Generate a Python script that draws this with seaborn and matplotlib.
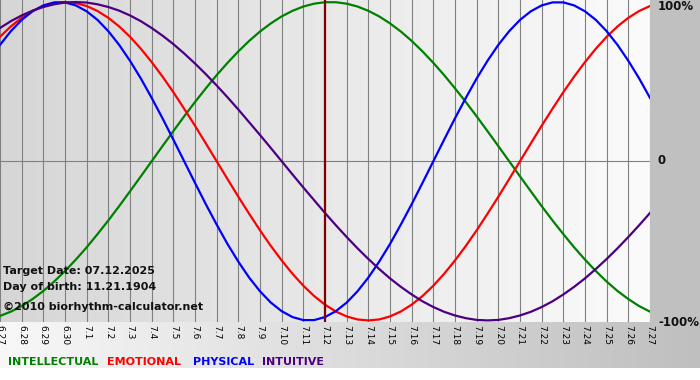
import numpy as np
import pandas as pd
import matplotlib
matplotlib.use("Agg")
import matplotlib.pyplot as plt
from matplotlib.colors import LinearSegmentedColormap
import seaborn as sns

dates = ["6.27", "6.28", "6.29", "6.30", "7.1", "7.2", "7.3", "7.4", "7.5", "7.6",
         "7.7", "7.8", "7.9", "7.10", "7.11", "7.12", "7.13", "7.14", "7.15", "7.16",
         "7.17", "7.18", "7.19", "7.20", "7.21", "7.22", "7.23", "7.24", "7.25", "7.26",
         "7.27"]
target_date = "7.12"
days = [i / 2 for i in range(61)]  # day offsets from 6.27

intellectual = [-0.972, -0.945, -0.910, -0.866, -0.815, -0.756, -0.690, -0.618, -0.541, -0.458,
                -0.372, -0.282, -0.189, -0.095, 0.000, 0.095, 0.189, 0.282, 0.372, 0.458,
                0.541, 0.618, 0.690, 0.756, 0.815, 0.866, 0.910, 0.945, 0.972, 0.990,
                0.999, 0.999, 0.990, 0.972, 0.945, 0.910, 0.866, 0.815, 0.756, 0.690,
                0.618, 0.541, 0.458, 0.372, 0.282, 0.189, 0.095, 0.000, -0.095, -0.189,
                -0.282, -0.372, -0.458, -0.541, -0.618, -0.690, -0.756, -0.815, -0.866, -0.910,
                -0.945]
emotional = [0.782, 0.847, 0.901, 0.944, 0.975, 0.994, 1.000, 0.994, 0.975, 0.944,
             0.901, 0.847, 0.782, 0.707, 0.623, 0.532, 0.434, 0.330, 0.223, 0.112,
             0.000, -0.112, -0.223, -0.330, -0.434, -0.532, -0.623, -0.707, -0.782, -0.847,
             -0.901, -0.944, -0.975, -0.994, -1.000, -0.994, -0.975, -0.944, -0.901, -0.847,
             -0.782, -0.707, -0.623, -0.532, -0.434, -0.330, -0.223, -0.112, 0.000, 0.112,
             0.223, 0.330, 0.434, 0.532, 0.623, 0.707, 0.782, 0.847, 0.901, 0.944,
             0.975]
physical = [0.731, 0.817, 0.888, 0.942, 0.979, 0.998, 0.998, 0.979, 0.942, 0.888,
            0.817, 0.731, 0.631, 0.520, 0.398, 0.270, 0.136, 0.000, -0.136, -0.270,
            -0.398, -0.520, -0.631, -0.731, -0.817, -0.888, -0.942, -0.979, -0.998, -0.998,
            -0.979, -0.942, -0.888, -0.817, -0.731, -0.631, -0.520, -0.398, -0.270, -0.136,
            0.000, 0.136, 0.270, 0.398, 0.520, 0.631, 0.731, 0.817, 0.888, 0.942,
            0.979, 0.998, 0.998, 0.979, 0.942, 0.888, 0.817, 0.731, 0.631, 0.520,
            0.398]
intuitive = [0.837, 0.880, 0.916, 0.946, 0.969, 0.986, 0.997, 1.000, 0.997, 0.986,
             0.969, 0.946, 0.916, 0.880, 0.837, 0.789, 0.736, 0.677, 0.614, 0.547,
             0.476, 0.402, 0.325, 0.245, 0.165, 0.083, 0.000, -0.083, -0.165, -0.245,
             -0.325, -0.402, -0.476, -0.547, -0.614, -0.677, -0.736, -0.789, -0.837, -0.880,
             -0.916, -0.946, -0.969, -0.986, -0.997, -1.000, -0.997, -0.986, -0.969, -0.946,
             -0.916, -0.880, -0.837, -0.789, -0.736, -0.677, -0.614, -0.547, -0.476, -0.402,
             -0.325]

series_names = ["INTELLECTUAL", "EMOTIONAL", "PHYSICAL", "INTUITIVE"]
colors = {"INTELLECTUAL": "#008000", "EMOTIONAL": "#ff0000",
          "PHYSICAL": "#0000ff", "INTUITIVE": "#4b0082"}
right_labels = ["100%", "0", "-100%"]
info_lines = ["Target Date: 07.12.2025", "Day of birth: 11.21.1904",
              "\u00a92010 biorhythm-calculator.net"]

# ---- long-form table ----
rows = []
for name, vals in zip(series_names, [intellectual, emotional, physical, intuitive]):
    for d, v in zip(days, vals):
        rows.append({"day": d, "value": v, "series": name})
df = pd.DataFrame(rows)

W, H = 700, 380
fig = plt.figure(figsize=(W / 100, H / 100), dpi=100)
fig.patch.set_facecolor("white")

# background frame (pixel coordinates)
bg = fig.add_axes([0, 0, 1, 1], zorder=-5)
plot_right, plot_bottom, strip_bottom = 650, 322, 368
bg.add_patch(plt.Rectangle((plot_right, 0), W - plot_right, plot_bottom,
                           color="#c0c0c0", lw=0))
strip_cmap = LinearSegmentedColormap.from_list("strip", ["#f8f8f8", "#bfbfbf"])
bg.imshow(np.linspace(0, 1, 256).reshape(1, -1), cmap=strip_cmap, aspect="auto",
          extent=[0, W, strip_bottom, plot_bottom], zorder=1)
bg.set_xlim(0, W)
bg.set_ylim(H, 0)
bg.axis("off")

# main plot
ax = fig.add_axes([0, 1 - plot_bottom / H, plot_right / W, plot_bottom / H])
ax.patch.set_visible(False)
ylo, yhi = -1.01, 1.013
area_cmap = LinearSegmentedColormap.from_list("area", ["#d6d6d6", "#fbfbfb"])
ax.imshow(np.linspace(0, 1, 256).reshape(1, -1), cmap=area_cmap, aspect="auto",
          extent=[0, len(dates) - 1, ylo, yhi], zorder=0)

sns.lineplot(data=df, x="day", y="value", hue="series", hue_order=series_names,
             palette=colors, linewidth=1.6, legend=False, ax=ax, zorder=3)

ax.axvline(dates.index(target_date), color="#800000", lw=1.6, zorder=4)

ax.set_xlim(0, len(dates) - 1)
ax.set_ylim(ylo, yhi)
ax.set_xticks(range(len(dates)))
ax.set_xticklabels(dates, rotation=-90, fontsize=6.5, color="#000000",
                   va="top", ha="center")
ax.set_yticks([0])
ax.tick_params(axis="x", length=0, pad=2)
ax.tick_params(axis="y", left=False, labelleft=False, length=0)
ax.grid(True, color="#808080", lw=0.8, zorder=1)
ax.set_axisbelow(True)
for s in ax.spines.values():
    s.set_visible(False)
ax.set_xlabel("")
ax.set_ylabel("")

# right side labels
for lab, y in zip(right_labels, [7, 161, 322]):
    fig.text(658 / W, 1 - y / H, lab, fontsize=8.5, fontweight="bold",
             color="#111111", ha="left", va="center")

# info text
for txt, y in zip(info_lines, [271, 287, 307]):
    fig.text(3 / W, 1 - y / H, txt, fontsize=8, fontweight="bold",
             color="#111111", ha="left", va="center")

# colored legend text
for name, x in zip(series_names, [8, 107, 193, 262]):
    fig.text(x / W, 1 - 362 / H, name, fontsize=8, fontweight="bold",
             color=colors[name], ha="left", va="center")

fig.savefig("out.png", dpi=100)
